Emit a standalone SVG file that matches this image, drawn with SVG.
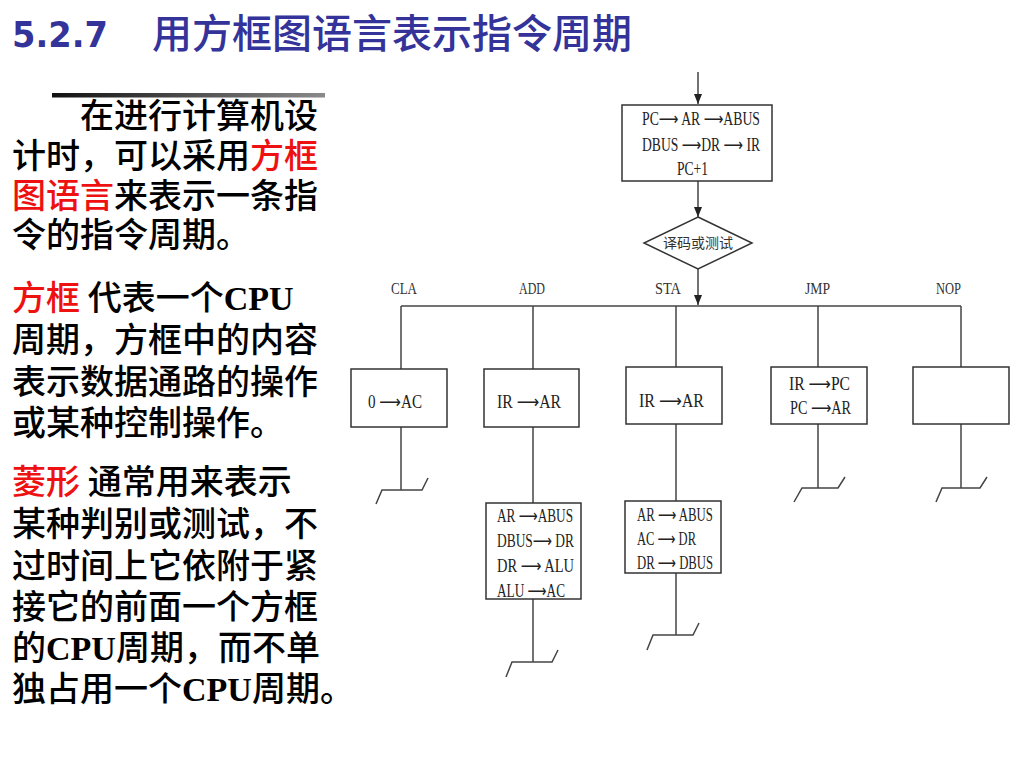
<svg xmlns="http://www.w3.org/2000/svg" width="1024" height="768" viewBox="0 0 1024 768">
<defs>
<linearGradient id="bar" x1="0" y1="0" x2="1" y2="0">
<stop offset="0" stop-color="#111"/>
<stop offset="1" stop-color="#8a8a8a"/>
</linearGradient>
<marker id="ah" markerUnits="userSpaceOnUse" markerWidth="10" markerHeight="8" refX="10" refY="4" orient="auto">
<path d="M0,0 L10,4 L0,8 Z" fill="#222"/>
</marker>
<style>
.cn{font-family:"Noto Sans CJK SC","Noto Sans",sans-serif;font-size:34px;font-weight:500;fill:#000}
.red{fill:#ee1111}
.b{font-family:"Liberation Serif",serif;font-weight:bold}
.box{fill:#fff;stroke:#333;stroke-width:1.5}
.ln{fill:none;stroke:#444;stroke-width:1.5}
.t{font-family:"Liberation Serif","DejaVu Sans",serif;font-size:18px;fill:#222}
.lab{font-family:"Liberation Serif",serif;font-size:17px;fill:#333}
.dc{font-family:"Noto Sans CJK SC",sans-serif;font-size:14px;fill:#333}
</style>
</defs>
<rect width="1024" height="768" fill="#fff"/>

<g id="title">
<text x="12" y="47" font-family="DejaVu Sans, sans-serif" font-weight="bold" font-size="35" fill="#333399" textLength="96" lengthAdjust="spacingAndGlyphs">5.2.7</text>
<text x="152" y="48" font-family="Noto Sans CJK SC, sans-serif" font-size="40" font-weight="500" fill="#333399">用方框图语言表示指令周期</text>
</g>

<rect x="52" y="93" width="273" height="4.5" fill="url(#bar)"/>

<g id="explain">
<text class="cn" x="80" y="128">在进行计算机设</text>
<text class="cn" x="12" y="168">计时，可以采用<tspan class="red">方框</tspan></text>
<text class="cn" x="12" y="208"><tspan class="red">图语言</tspan>来表示一条指</text>
<text class="cn" x="12" y="247">令的指令周期。</text>
<text class="cn" x="12" y="310"><tspan class="red">方框</tspan> 代表一个<tspan class="b">CPU</tspan></text>
<text class="cn" x="12" y="352">周期，方框中的内容</text>
<text class="cn" x="12" y="394">表示数据通路的操作</text>
<text class="cn" x="12" y="435">或某种控制操作。</text>
<text class="cn" x="12" y="494"><tspan class="red">菱形</tspan> 通常用来表示</text>
<text class="cn" x="12" y="536">某种判别或测试，不</text>
<text class="cn" x="12" y="578">过时间上它依附于紧</text>
<text class="cn" x="12" y="619">接它的前面一个方框</text>
<text class="cn" x="12" y="660">的<tspan class="b">CPU</tspan>周期，而不单</text>
<text class="cn" x="12" y="701">独占用一个<tspan class="b">CPU</tspan>周期。</text>
</g>

<g id="connectors">
<line class="ln" x1="698" y1="72" x2="698" y2="104" marker-end="url(#ah)"/>
<line class="ln" x1="698" y1="181" x2="698" y2="217" marker-end="url(#ah)"/>
<line class="ln" x1="698" y1="269" x2="698" y2="305" marker-end="url(#ah)"/>
<line class="ln" x1="401" y1="306" x2="961" y2="306"/>
<line class="ln" x1="401" y1="306" x2="401" y2="369"/>
<line class="ln" x1="533" y1="306" x2="533" y2="369"/>
<line class="ln" x1="676" y1="306" x2="676" y2="367"/>
<line class="ln" x1="818" y1="306" x2="818" y2="367"/>
<line class="ln" x1="961" y1="306" x2="961" y2="367"/>
<line class="ln" x1="401" y1="427" x2="401" y2="490"/>
<polyline class="ln" points="376,504 382,490 422,490 428,478"/>
<line class="ln" x1="533" y1="427" x2="533" y2="503"/>
<line class="ln" x1="533" y1="599" x2="533" y2="662"/>
<polyline class="ln" points="506,677 512,662 552,662 558,650"/>
<line class="ln" x1="676" y1="424" x2="676" y2="501"/>
<line class="ln" x1="676" y1="573" x2="676" y2="635"/>
<polyline class="ln" points="647,650 653,635 693,635 699,623"/>
<line class="ln" x1="818" y1="424" x2="818" y2="488"/>
<polyline class="ln" points="794,502 802,488 838,488 845,477"/>
<line class="ln" x1="961" y1="424" x2="961" y2="488"/>
<polyline class="ln" points="936,502 942,488 980,488 987,477"/>
</g>

<g id="labels">
<text class="lab" x="391" y="294" textLength="26" lengthAdjust="spacingAndGlyphs">CLA</text>
<text class="lab" x="519" y="294" textLength="26" lengthAdjust="spacingAndGlyphs">ADD</text>
<text class="lab" x="655" y="294" textLength="26" lengthAdjust="spacingAndGlyphs">STA</text>
<text class="lab" x="805" y="294" textLength="25" lengthAdjust="spacingAndGlyphs">JMP</text>
<text class="lab" x="936" y="294" textLength="25" lengthAdjust="spacingAndGlyphs">NOP</text>
</g>

<g id="fetch">
<rect class="box" x="622" y="105" width="150" height="76"/>
<text class="t" x="642" y="125" textLength="118" lengthAdjust="spacingAndGlyphs">PC⟶ AR ⟶ABUS</text>
<text class="t" x="642" y="151" textLength="118" lengthAdjust="spacingAndGlyphs">DBUS ⟶DR ⟶ IR</text>
<text class="t" x="677" y="175" textLength="31" lengthAdjust="spacingAndGlyphs">PC+1</text>
</g>

<g id="decode">
<polygon class="box" points="698,217 752,243 698,269 644,243"/>
<text class="dc" x="663" y="248" textLength="70" lengthAdjust="spacingAndGlyphs">译码或测试</text>
</g>

<g id="cla">
<rect class="box" x="351" y="369" width="96" height="58"/>
<text class="t" x="368" y="408" textLength="54" lengthAdjust="spacingAndGlyphs">0 ⟶AC</text>
</g>

<g id="add1">
<rect class="box" x="484" y="369" width="95" height="58"/>
<text class="t" x="497" y="408" textLength="64" lengthAdjust="spacingAndGlyphs">IR ⟶AR</text>
</g>

<g id="sta1">
<rect class="box" x="626" y="367" width="96" height="57"/>
<text class="t" x="639" y="407" textLength="65" lengthAdjust="spacingAndGlyphs">IR ⟶AR</text>
</g>

<g id="jmp">
<rect class="box" x="771" y="367" width="96" height="57"/>
<text class="t" x="789" y="390" textLength="61" lengthAdjust="spacingAndGlyphs">IR ⟶PC</text>
<text class="t" x="790" y="414" textLength="61" lengthAdjust="spacingAndGlyphs">PC ⟶AR</text>
</g>

<g id="nop">
<rect class="box" x="913" y="367" width="96" height="57"/>
</g>

<g id="add2">
<rect class="box" x="486" y="503" width="95" height="96"/>
<text class="t" x="497" y="522" textLength="76" lengthAdjust="spacingAndGlyphs">AR ⟶ABUS</text>
<text class="t" x="497" y="547" textLength="77" lengthAdjust="spacingAndGlyphs">DBUS⟶ DR</text>
<text class="t" x="497" y="572" textLength="77" lengthAdjust="spacingAndGlyphs">DR   ⟶ ALU</text>
<text class="t" x="497" y="597" textLength="68" lengthAdjust="spacingAndGlyphs">ALU ⟶AC</text>
</g>

<g id="sta2">
<rect class="box" x="625" y="501" width="96" height="72"/>
<text class="t" x="637" y="521" textLength="76" lengthAdjust="spacingAndGlyphs">AR ⟶ ABUS</text>
<text class="t" x="637" y="545" textLength="59" lengthAdjust="spacingAndGlyphs">AC ⟶ DR</text>
<text class="t" x="637" y="569" textLength="76" lengthAdjust="spacingAndGlyphs">DR ⟶ DBUS</text>
</g>
</svg>
